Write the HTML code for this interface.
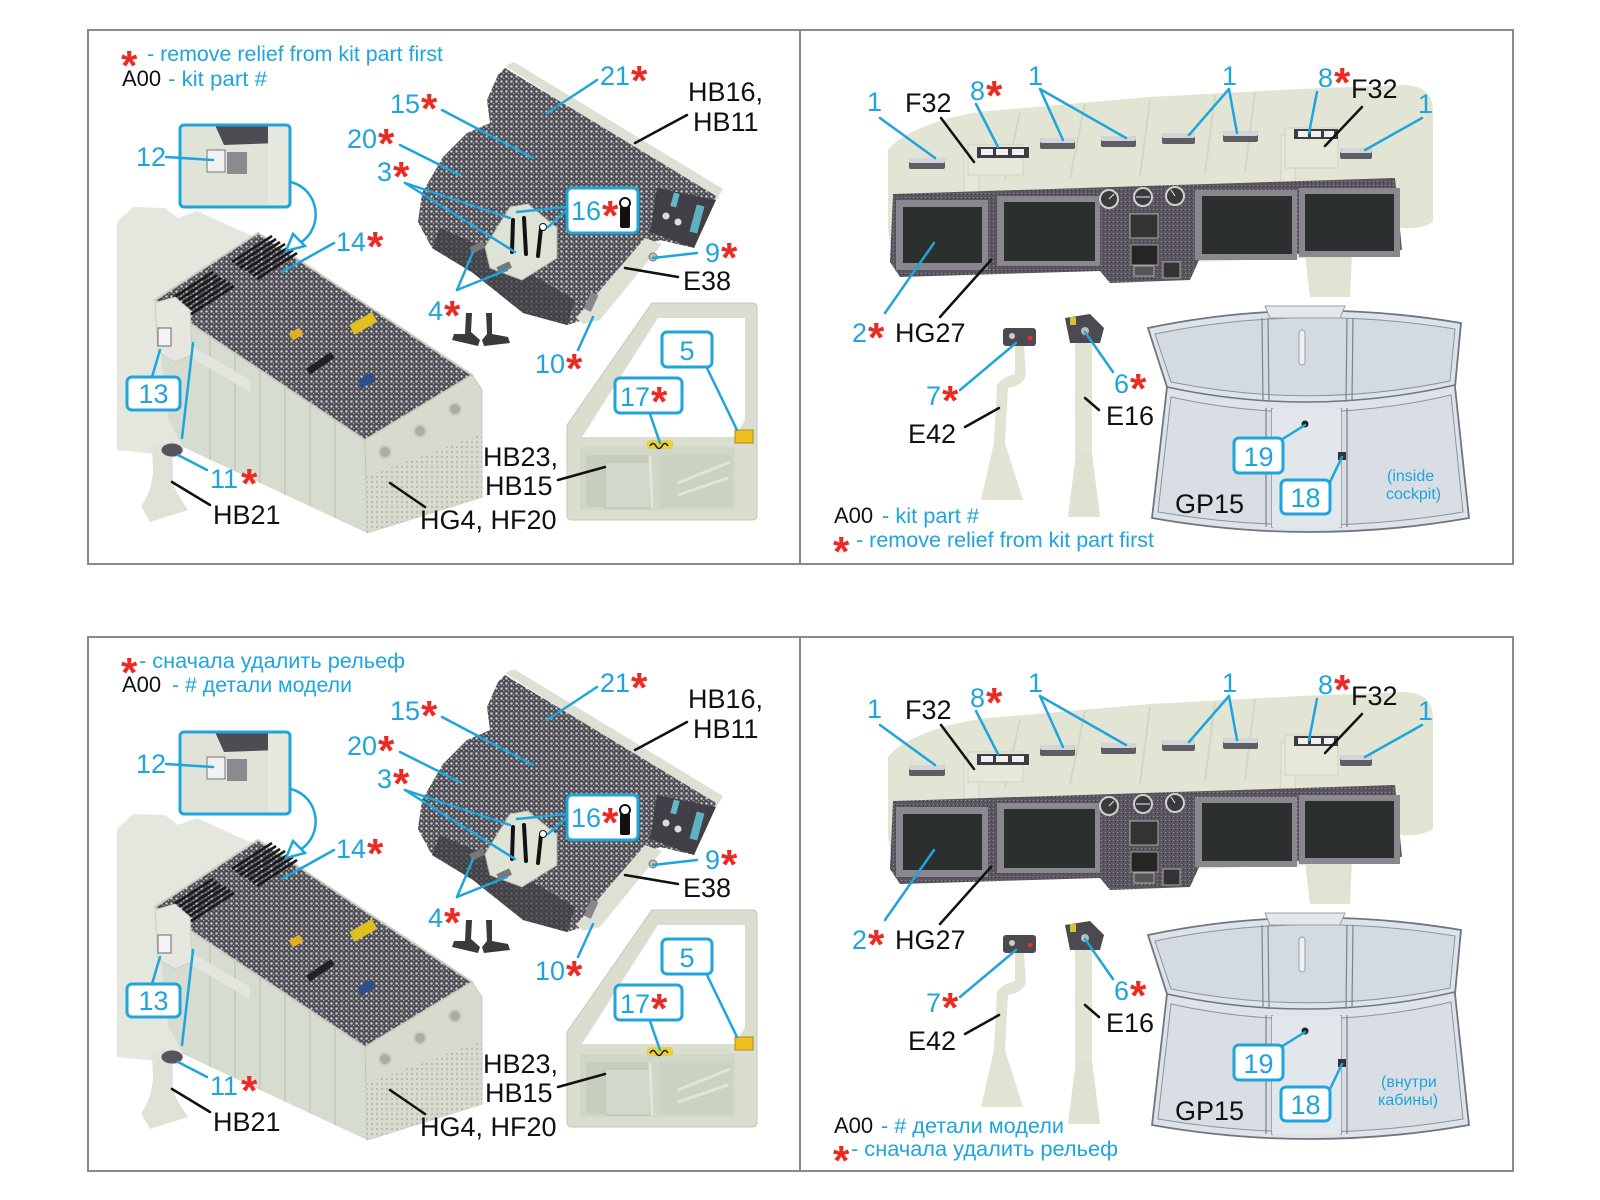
<!DOCTYPE html>
<html><head><meta charset="utf-8"><style>
html,body{margin:0;padding:0;background:#fff;}
svg{display:block;}
text{font-family:"Liberation Sans","DejaVu Sans",sans-serif;}
.c{fill:#1fa4dc;font-size:27px;}
.k{fill:#111;font-size:27px;}
.s{fill:#ea2a24;font-size:42px;font-weight:bold;}
.lg{font-size:21px;}
.cl{stroke:#1fa4dc;stroke-width:2.5;stroke-linecap:round;fill:none;}
.bl{stroke:#111;stroke-width:2.5;stroke-linecap:round;fill:none;}
.bx{fill:#fff;stroke:#1fa4dc;stroke-width:3;}
</style></head><body>
<svg xmlns="http://www.w3.org/2000/svg" width="1600" height="1200" viewBox="0 0 1600 1200">
<defs>
<pattern id="texA" width="5" height="5" patternUnits="userSpaceOnUse"><rect width="5" height="5" fill="#4f4e55"/><rect x="0.5" y="0.5" width="2" height="2" fill="#e0e0e4"/><rect x="3" y="3" width="1.2" height="1.2" fill="#b0b0b5"/></pattern>
<pattern id="texB" width="4" height="4" patternUnits="userSpaceOnUse"><rect width="4" height="4" fill="#5a555e"/><rect x="1" y="1" width="1" height="1" fill="#938e99"/><rect x="3" y="2" width="1" height="1" fill="#423e46"/></pattern>
<pattern id="mesh" width="5" height="5" patternUnits="userSpaceOnUse"><rect width="5" height="5" fill="#d6dbce"/><rect x="1" y="1" width="2" height="2" fill="#b7bdad"/></pattern>
<clipPath id="clip12"><rect x="180" y="125" width="110" height="82" rx="4"/></clipPath>

<g id="gL">
 <path d="M117,222 L133,207 L165,208 L178,218 L197,211 L252,236 L155,300 L168,420 L183,447 L175,456 L117,450 Z" fill="#e4e7de"/>
 <path d="M155,300 L365,440 L367,533 L183,447 L168,420 Z" fill="#d7dcd0"/>
 <g stroke="#c3c9b7" stroke-width="1.5">
  <line x1="210" y1="337" x2="210" y2="460"/><line x1="235" y1="353" x2="235" y2="471"/>
  <line x1="260" y1="370" x2="260" y2="483"/><line x1="285" y1="387" x2="285" y2="495"/>
  <line x1="310" y1="403" x2="310" y2="506"/><line x1="335" y1="420" x2="335" y2="518"/>
 </g>
 <path d="M190,345 L250,380 L250,392 L190,357 Z" fill="#e3e6dc"/>
 <path d="M155,300 L258,233 L472,375 L365,440 Z" fill="url(#texA)" stroke="#c9cdc2" stroke-width="2"/>
 <g stroke="#1a1a1c" stroke-width="2.6">
  <line x1="232" y1="262" x2="272" y2="236"/><line x1="236" y1="265" x2="276" y2="239"/>
  <line x1="240" y1="268" x2="280" y2="242"/><line x1="245" y1="270" x2="285" y2="244"/>
  <line x1="249" y1="273" x2="289" y2="247"/><line x1="253" y1="276" x2="293" y2="250"/>
  <line x1="257" y1="279" x2="297" y2="253"/>
  <line x1="170" y1="300" x2="213" y2="272"/><line x1="174" y1="303" x2="217" y2="275"/>
  <line x1="178" y1="306" x2="221" y2="278"/><line x1="183" y1="308" x2="226" y2="280"/>
  <line x1="187" y1="311" x2="230" y2="283"/><line x1="191" y1="314" x2="234" y2="286"/>
 </g>
 <rect x="350" y="318" width="26" height="11" fill="#e0c020" transform="rotate(-30 363 323)"/>
 <rect x="290" y="330" width="12" height="8" fill="#e0b020" transform="rotate(-30 296 334)"/>
 <rect x="358" y="376" width="16" height="9" fill="#2a4f8a" transform="rotate(-30 366 380)"/>
 <rect x="305" y="360" width="30" height="7" fill="#222" transform="rotate(-34 320 363)"/>
 <path d="M365,440 L472,375 L482,390 L482,497 L367,533 Z" fill="#d6dbce" stroke="#c2c8b8"/>
 <path d="M367,476 L482,434 L482,497 L367,533 Z" fill="url(#mesh)"/>
 <g fill="#a9af9f" stroke="#c9cebf" stroke-width="2">
  <circle cx="385" cy="452" r="6"/><circle cx="420" cy="431" r="6"/><circle cx="455" cy="409" r="6"/>
 </g>
 <path d="M155,303 L175,297 L190,310 L192,355 L175,362 L158,352 Z" fill="#e6e8e0" stroke="#c9cdc1"/>
 <rect x="158" y="328" width="13" height="18" fill="#f4f4f4" stroke="#666"/>
 <path d="M152,447 Q162,440 172,447 L173,470 Q172,486 179,496 L188,510 L150,522 L141,506 Q152,492 153,470 Z" fill="#dfe2d7"/>
 <ellipse cx="172" cy="450" rx="11" ry="7" fill="#55545a" stroke="#ddd"/>
 <g clip-path="url(#clip12)">
  <rect x="180" y="125" width="110" height="82" fill="#dfe3d8"/>
  <path d="M215,125 L290,125 L290,132 L280,143 L224,145 Z" fill="#4d4c52"/>
  <rect x="268" y="125" width="22" height="82" fill="#e6e9df"/>
  <rect x="207" y="150" width="18" height="22" fill="#f2f2f2" stroke="#777"/>
  <rect x="227" y="152" width="20" height="22" fill="#8a8a8f"/>
 </g>
 <rect class="bx" x="180" y="125" width="110" height="82" rx="4" style="fill:none"/>
 <path class="cl" d="M291,182 C320,190 324,228 300,243"/>
 <path d="M286,251 L293,234 L305,246 Z" fill="#fff" stroke="#1fa4dc" stroke-width="2.5"/>
 <path d="M505,66 L514,62 L723,189 L716,201 Z" fill="#dde1d4"/>
 <path d="M498,75 L505,68 L716,196 L712,205 L694,248 L660,240 L650,245 L590,318 L567,325 L523,313 L473,273 L432,248 L418,222 L422,193 L443,157 L467,133 L490,123 L487,100 Z" fill="url(#texA)"/>
 <path d="M432,248 L473,273 L523,313 L567,325 L575,300 L490,250 L440,228 Z" fill="#3e3d43" opacity="0.75"/>
 <path d="M657,188 L716,200 L694,248 L650,232 Z" fill="#403f45"/>
 <rect x="672" y="193" width="6" height="14" fill="#5fb8c8" transform="rotate(15 675 200)"/>
 <rect x="693" y="205" width="8" height="28" fill="#5fb0c0" transform="rotate(15 697 219)"/>
 <circle cx="666" cy="216" r="3.5" fill="#ddd"/><circle cx="678" cy="222" r="3.5" fill="#ddd"/>
 <path d="M645,238 L662,244 L600,320 L583,324 L576,318 Z" fill="#dde1d3"/>
 <circle cx="653" cy="257" r="4" fill="#bbb" stroke="#777"/>
 <rect x="587" y="293" width="8" height="18" fill="#888" transform="rotate(25 591 302)"/>
 <path d="M485,247 L510,207 L528,204 L557,228 L557,258 L522,280 L490,268 Z" fill="#dfe3d6" stroke="#b9bfb0"/>
 <g stroke="#111" stroke-width="4" stroke-linecap="round">
  <line x1="513" y1="220" x2="512" y2="252"/><line x1="524" y1="218" x2="526" y2="254"/><line x1="541" y1="228" x2="538" y2="256"/>
 </g>
 <circle cx="543" cy="227" r="3.5" fill="#fff" stroke="#111"/>
 <rect x="470" y="244" width="14" height="7" fill="#777" transform="rotate(-25 477 247)"/>
 <rect x="497" y="264" width="14" height="7" fill="#777" transform="rotate(-25 504 267)"/>
 <g fill="#3a3a3e">
  <path d="M466,313 L472,313 L471,332 L480,340 L478,346 L452,340 L454,334 L465,334 Z"/>
  <path d="M486,313 L492,313 L492,334 L508,337 L510,343 L484,346 L482,340 L487,334 Z"/>
 </g>
 <path d="M652,303 L752,303 Q757,303 757,308 L757,515 Q757,520 752,520 L572,520 Q567,520 567,515 L567,425 Z" fill="#d9decf" stroke="#c3c9b8"/>
 <path d="M582,437 L658,318 L745,318 L745,420 L735,437 Z" fill="#fff"/>
 <rect x="580" y="447" width="155" height="63" fill="#d1d7c7"/>
 <rect x="586" y="455" width="62" height="52" fill="#c8cebe"/>
 <rect x="660" y="455" width="72" height="52" fill="#ccd2c2"/>
 <rect x="605" y="462" width="45" height="46" fill="#d3d9ca" stroke="#bcc2b2"/>
 <g stroke="#e2e6d8" stroke-width="3"><line x1="678" y1="483" x2="730" y2="462"/><line x1="678" y1="495" x2="728" y2="478"/><line x1="650" y1="456" x2="652" y2="508"/></g>
 <rect x="735" y="430" width="18" height="13" fill="#f0c020" stroke="#b08a10"/>
 <rect x="647" y="440" width="26" height="9" rx="3" fill="#e8d040"/>
 <path d="M650,446 q3,-5 6,0 q3,5 6,0 q3,-5 6,0" stroke="#222" fill="none" stroke-width="1.5"/>
 <line class="cl" x1="166" y1="157" x2="213" y2="160"/>
 <line class="cl" x1="334" y1="243" x2="282" y2="272"/>
 <line class="cl" x1="442" y1="110" x2="533" y2="158"/>
 <line class="cl" x1="400" y1="145" x2="460" y2="175"/>
 <line class="cl" x1="405" y1="183" x2="510" y2="218"/>
 <line class="cl" x1="405" y1="183" x2="515" y2="252"/>
 <line class="cl" x1="597" y1="80" x2="547" y2="113"/>
 <line class="bl" x1="687" y1="115" x2="635" y2="143"/>
 <line class="cl" x1="566" y1="207" x2="517" y2="212"/>
 <line class="cl" x1="567" y1="210" x2="548" y2="227"/>
 <line class="cl" x1="457" y1="290" x2="473" y2="252"/>
 <line class="cl" x1="457" y1="290" x2="507" y2="270"/>
 <line class="cl" x1="653" y1="258" x2="697" y2="253"/>
 <line class="bl" x1="625" y1="268" x2="678" y2="277"/>
 <line class="cl" x1="578" y1="350" x2="593" y2="317"/>
 <line class="cl" x1="707" y1="368" x2="737" y2="430"/>
 <line class="cl" x1="650" y1="414" x2="660" y2="443"/>
 <line class="bl" x1="558" y1="480" x2="605" y2="467"/>
 <line class="cl" x1="152" y1="377" x2="160" y2="350"/>
 <line class="cl" x1="182" y1="438" x2="193" y2="343"/>
 <line class="cl" x1="178" y1="455" x2="207" y2="470"/>
 <line class="bl" x1="172" y1="482" x2="210" y2="505"/>
 <line class="bl" x1="390" y1="483" x2="425" y2="507"/>
 <rect class="bx" x="127" y="377" width="53" height="33" rx="5"/>
 <rect class="bx" x="662" y="332" width="50" height="35" rx="5"/>
 <rect class="bx" x="615" y="378" width="67" height="35" rx="5"/>
 <rect class="bx" x="567" y="188" width="71" height="45" rx="5"/>
 <rect x="620" y="206" width="10" height="22" rx="2" fill="#111"/>
 <circle cx="625" cy="203" r="5" fill="#fff" stroke="#111" stroke-width="2"/>
</g>

<g id="gR">
 <path d="M888,150 C905,128 960,112 1000,110 L1150,97 L1300,89 L1405,85 Q1432,86 1433,110 L1433,222 Q1420,230 1400,228 L1398,255 L895,272 L888,230 Z" fill="#e2e5d4"/>
 <g stroke="#d2d6c3" stroke-width="2"><line x1="1020" y1="112" x2="1005" y2="180"/><line x1="1085" y1="104" x2="1070" y2="178"/><line x1="1150" y1="100" x2="1140" y2="176"/><line x1="1215" y1="95" x2="1205" y2="174"/><line x1="1255" y1="92" x2="1245" y2="172"/></g>
 <path d="M1305,255 L1352,252 L1350,297 L1310,297 Z" fill="#e0e3d2"/>
 <rect x="964" y="150" width="15" height="42" fill="#e6e8da" stroke="#cfd3c2"/>
 <rect x="968" y="145" width="55" height="30" fill="#e6e8da" stroke="#cfd3c2"/>
 <rect x="977" y="147" width="52" height="11" fill="#3c3c42"/>
 <g fill="#f0f0f0"><rect x="981" y="149" width="12" height="6"/><rect x="996" y="149" width="12" height="6"/><rect x="1012" y="149" width="12" height="6"/></g>
 <rect x="1281" y="135" width="14" height="47" fill="#e6e8da" stroke="#cfd3c2"/>
 <rect x="1285" y="128" width="53" height="40" fill="#e6e8da" stroke="#cfd3c2"/>
 <rect x="1294" y="129" width="44" height="10" fill="#3c3c42"/>
 <g fill="#f0f0f0"><rect x="1298" y="131" width="10" height="6"/><rect x="1311" y="131" width="10" height="6"/><rect x="1324" y="131" width="10" height="6"/></g>
 <g>
  <rect x="909" y="158" width="36" height="11" rx="2" fill="#5e5e64"/><rect x="909" y="158" width="36" height="5" rx="2" fill="#d4d5d8"/>
  <rect x="1040" y="138" width="35" height="11" rx="2" fill="#5e5e64"/><rect x="1040" y="138" width="35" height="5" rx="2" fill="#d4d5d8"/>
  <rect x="1101" y="136" width="35" height="11" rx="2" fill="#5e5e64"/><rect x="1101" y="136" width="35" height="5" rx="2" fill="#d4d5d8"/>
  <rect x="1162" y="133" width="33" height="11" rx="2" fill="#5e5e64"/><rect x="1162" y="133" width="33" height="5" rx="2" fill="#d4d5d8"/>
  <rect x="1223" y="131" width="35" height="11" rx="2" fill="#5e5e64"/><rect x="1223" y="131" width="35" height="5" rx="2" fill="#d4d5d8"/>
  <rect x="1340" y="148" width="32" height="11" rx="2" fill="#5e5e64"/><rect x="1340" y="148" width="32" height="5" rx="2" fill="#d4d5d8"/>
 </g>
 <path d="M893,194 L1395,178 L1402,250 L1200,258 L1190,280 L1110,283 L1100,271 L900,277 L890,262 Z" fill="url(#texB)"/>
 <g fill="#8a888f">
  <rect x="896" y="200" width="92" height="70"/><rect x="997" y="196" width="103" height="70"/>
  <rect x="1195" y="190" width="102" height="70"/><rect x="1299" y="188" width="101" height="69"/>
 </g>
 <g fill="#2b302e">
  <rect x="903" y="207" width="79" height="56"/><rect x="1004" y="202" width="91" height="59"/>
  <rect x="1202" y="196" width="90" height="58"/><rect x="1305" y="194" width="89" height="57"/>
 </g>
 <g fill="#3a3a3c" stroke="#d0d0d0" stroke-width="2">
  <circle cx="1109" cy="199" r="9"/><circle cx="1143" cy="197" r="9"/><circle cx="1175" cy="196" r="9"/>
 </g>
 <g stroke="#eee" stroke-width="1"><line x1="1109" y1="199" x2="1114" y2="194"/><line x1="1136" y1="197" x2="1150" y2="197"/><line x1="1175" y1="196" x2="1171" y2="190"/></g>
 <rect x="1130" y="214" width="28" height="24" fill="#333" stroke="#aaa"/>
 <rect x="1131" y="245" width="27" height="20" fill="#252525" stroke="#999"/>
 <rect x="1163" y="262" width="17" height="16" fill="#333" stroke="#aaa"/>
 <rect x="1134" y="266" width="20" height="10" fill="#555" stroke="#aaa"/>
 <path d="M1015,345 L1024,345 L1026,376 Q1022,386 1008,388 L1005,443 L1023,500 L981,500 L994,443 L997,385 Q1002,377 1015,374 Z" fill="#dfe5d2"/>
 <rect x="1003" y="328" width="33" height="18" rx="3" fill="#4a4a50"/>
 <circle cx="1030" cy="338" r="2.5" fill="#d33"/><circle cx="1012" cy="336" r="3" fill="#ccc"/>
 <rect x="1075" y="340" width="17" height="115" fill="#dfe5d2"/>
 <path d="M1076,453 L1092,453 L1100,517 L1068,517 Z" fill="#dde3d0"/>
 <path d="M1065,318 L1090,314 L1104,328 L1100,343 L1070,343 Z" fill="#4a4a50"/>
 <circle cx="1085" cy="331" r="4" fill="#bbb"/><rect x="1070" y="317" width="6" height="8" fill="#d8c030"/>
 <path d="M1148,328 Q1300,296 1461,323 L1455,387 L1469,518 Q1310,546 1152,518 L1167,387 Z" fill="#dde3e8" stroke="#6f767e" stroke-width="1.8"/>
 <path d="M1167,387 Q1310,418 1455,385" fill="none" stroke="#6f767e" stroke-width="1.5"/>
 <path d="M1155,334 Q1300,304 1455,329 L1450,381 Q1310,410 1171,382 Z" fill="#d4dbe0" stroke="#8c939a" stroke-width="1"/>
 <path d="M1171,397 Q1310,428 1451,395 L1463,512 Q1310,538 1158,512 Z" fill="#d8dee3" stroke="#8c939a" stroke-width="1"/>
 <g stroke="#7b828a" stroke-width="1.2">
  <line x1="1262" y1="318" x2="1263" y2="401"/><line x1="1268" y1="318" x2="1269" y2="402"/>
  <line x1="1347" y1="318" x2="1346" y2="402"/><line x1="1353" y1="318" x2="1352" y2="401"/>
  <line x1="1266" y1="408" x2="1266" y2="527"/><line x1="1272" y1="408" x2="1272" y2="528"/>
  <line x1="1341" y1="408" x2="1341" y2="528"/><line x1="1347" y1="408" x2="1347" y2="527"/>
 </g>
 <rect x="1272" y="409" width="69" height="118" fill="#e2e7eb"/>
 <rect x="1299" y="330" width="6" height="35" rx="3" fill="#eef1f3" stroke="#9aa0a6"/>
 <path d="M1265,306 L1345,306 L1340,318 L1270,318 Z" fill="#e4e8eb" stroke="#9aa0a6"/>
 <circle cx="1305" cy="424" r="3.5" fill="#222"/>
 <rect x="1338" y="452" width="8" height="8" fill="#333"/>
 <line class="cl" x1="880" y1="118" x2="935" y2="158"/>
 <line class="bl" x1="941" y1="118" x2="974" y2="162"/>
 <line class="cl" x1="976" y1="104" x2="998" y2="147"/>
 <line class="cl" x1="1040" y1="89" x2="1063" y2="140"/>
 <line class="cl" x1="1040" y1="89" x2="1126" y2="138"/>
 <line class="cl" x1="1229" y1="89" x2="1189" y2="135"/>
 <line class="cl" x1="1229" y1="89" x2="1237" y2="133"/>
 <line class="cl" x1="1317" y1="92" x2="1309" y2="133"/>
 <line class="bl" x1="1362" y1="107" x2="1325" y2="146"/>
 <line class="cl" x1="1422" y1="118" x2="1365" y2="150"/>
 <line class="cl" x1="885" y1="313" x2="934" y2="243"/>
 <line class="bl" x1="940" y1="317" x2="991" y2="260"/>
 <line class="cl" x1="960" y1="390" x2="1016" y2="343"/>
 <line class="bl" x1="965" y1="427" x2="999" y2="408"/>
 <line class="cl" x1="1113" y1="372" x2="1085" y2="332"/>
 <line class="bl" x1="1099" y1="410" x2="1085" y2="398"/>
 <line class="cl" x1="1281" y1="440" x2="1305" y2="425"/>
 <line class="cl" x1="1330" y1="482" x2="1342" y2="457"/>
 <rect class="bx" x="1234" y="438" width="49" height="35" rx="5"/>
 <rect class="bx" x="1281" y="480" width="49" height="34" rx="5"/>
</g>
</defs>

<rect x="88" y="30" width="1425" height="534" fill="none" stroke="#8a8a8a" stroke-width="2"/>
<line x1="800" y1="30" x2="800" y2="564" stroke="#8a8a8a" stroke-width="2"/>
<rect x="88" y="637" width="1425" height="534" fill="none" stroke="#8a8a8a" stroke-width="2"/>
<line x1="800" y1="637" x2="800" y2="1171" stroke="#8a8a8a" stroke-width="2"/>

<use href="#gL"/><use href="#gR"/>
<use href="#gL" y="607"/><use href="#gR" y="607"/>

<g>
 <text class="s" x="121" y="80">*</text>
 <text class="c lg" x="147" y="61" textLength="296" lengthAdjust="spacingAndGlyphs">- remove relief from kit part first</text>
 <text class="k lg" x="122" y="86" style="font-size:22px">A00</text>
 <text class="c lg" x="168" y="86" textLength="99" lengthAdjust="spacingAndGlyphs">- kit part #</text>

 <text class="c" x="136" y="166">12</text>
 <text class="c" x="336" y="251">14</text><text class="s" x="367" y="261">*</text>
 <text class="c" x="390" y="113">15</text><text class="s" x="421" y="123">*</text>
 <text class="c" x="347" y="148">20</text><text class="s" x="378" y="158">*</text>
 <text class="c" x="377" y="181">3</text><text class="s" x="393" y="191">*</text>
 <text class="c" x="600" y="85">21</text><text class="s" x="631" y="95">*</text>
 <text class="k" x="688" y="101">HB16,</text>
 <text class="k" x="693" y="131">HB11</text>
 <text class="c" x="571" y="220">16</text><text class="s" x="602" y="230">*</text>
 <text class="c" x="428" y="320">4</text><text class="s" x="444" y="330">*</text>
 <text class="c" x="705" y="262">9</text><text class="s" x="721" y="272">*</text>
 <text class="k" x="683" y="290">E38</text>
 <text class="c" x="535" y="373">10</text><text class="s" x="566" y="383">*</text>
 <text class="c" x="687" y="360" text-anchor="middle">5</text>
 <text class="c" x="620" y="406">17</text><text class="s" x="651" y="416">*</text>
 <text class="k" x="483" y="466">HB23,</text>
 <text class="k" x="485" y="495">HB15</text>
 <text class="c" x="153.5" y="403" text-anchor="middle">13</text>
 <text class="c" x="210" y="488">11</text><text class="s" x="241" y="498">*</text>
 <text class="k" x="213" y="524">HB21</text>
 <text class="k" x="420" y="529">HG4, HF20</text>

 <text class="c" x="867" y="111">1</text>
 <text class="k" x="905" y="112">F32</text>
 <text class="c" x="970" y="100">8</text><text class="s" x="986" y="110">*</text>
 <text class="c" x="1028" y="85">1</text>
 <text class="c" x="1222" y="85">1</text>
 <text class="c" x="1318" y="87">8</text><text class="s" x="1334" y="97">*</text>
 <text class="k" x="1351" y="98">F32</text>
 <text class="c" x="1418" y="113">1</text>
 <text class="c" x="852" y="342">2</text><text class="s" x="868" y="352">*</text>
 <text class="k" x="895" y="342">HG27</text>
 <text class="c" x="926" y="405">7</text><text class="s" x="942" y="415">*</text>
 <text class="k" x="908" y="443">E42</text>
 <text class="c" x="1114" y="393">6</text><text class="s" x="1130" y="403">*</text>
 <text class="k" x="1106" y="425">E16</text>
 <text class="c" x="1258.5" y="466" text-anchor="middle">19</text>
 <text class="c" x="1305.5" y="507" text-anchor="middle">18</text>
 <text class="k" x="1175" y="513">GP15</text>
 <text class="c" x="1387" y="481" style="font-size:16px">(inside</text>
 <text class="c" x="1386" y="499" style="font-size:16px">cockpit)</text>
 <text class="k lg" x="834" y="523" style="font-size:22px">A00</text>
 <text class="c lg" x="882" y="523" textLength="97" lengthAdjust="spacingAndGlyphs">- kit part #</text>
 <text class="s" x="833" y="566">*</text>
 <text class="c lg" x="856" y="547" textLength="298" lengthAdjust="spacingAndGlyphs">- remove relief from kit part first</text>
</g>

<g transform="translate(0,607)">
 <text class="s" x="121" y="80">*</text>
 <text class="c lg" x="139" y="61" textLength="266" lengthAdjust="spacingAndGlyphs">- сначала удалить рельеф</text>
 <text class="k lg" x="122" y="85" style="font-size:22px">A00</text>
 <text class="c lg" x="172" y="85" textLength="180" lengthAdjust="spacingAndGlyphs">- # детали модели</text>

 <text class="c" x="136" y="166">12</text>
 <text class="c" x="336" y="251">14</text><text class="s" x="367" y="261">*</text>
 <text class="c" x="390" y="113">15</text><text class="s" x="421" y="123">*</text>
 <text class="c" x="347" y="148">20</text><text class="s" x="378" y="158">*</text>
 <text class="c" x="377" y="181">3</text><text class="s" x="393" y="191">*</text>
 <text class="c" x="600" y="85">21</text><text class="s" x="631" y="95">*</text>
 <text class="k" x="688" y="101">HB16,</text>
 <text class="k" x="693" y="131">HB11</text>
 <text class="c" x="571" y="220">16</text><text class="s" x="602" y="230">*</text>
 <text class="c" x="428" y="320">4</text><text class="s" x="444" y="330">*</text>
 <text class="c" x="705" y="262">9</text><text class="s" x="721" y="272">*</text>
 <text class="k" x="683" y="290">E38</text>
 <text class="c" x="535" y="373">10</text><text class="s" x="566" y="383">*</text>
 <text class="c" x="687" y="360" text-anchor="middle">5</text>
 <text class="c" x="620" y="406">17</text><text class="s" x="651" y="416">*</text>
 <text class="k" x="483" y="466">HB23,</text>
 <text class="k" x="485" y="495">HB15</text>
 <text class="c" x="153.5" y="403" text-anchor="middle">13</text>
 <text class="c" x="210" y="488">11</text><text class="s" x="241" y="498">*</text>
 <text class="k" x="213" y="524">HB21</text>
 <text class="k" x="420" y="529">HG4, HF20</text>

 <text class="c" x="867" y="111">1</text>
 <text class="k" x="905" y="112">F32</text>
 <text class="c" x="970" y="100">8</text><text class="s" x="986" y="110">*</text>
 <text class="c" x="1028" y="85">1</text>
 <text class="c" x="1222" y="85">1</text>
 <text class="c" x="1318" y="87">8</text><text class="s" x="1334" y="97">*</text>
 <text class="k" x="1351" y="98">F32</text>
 <text class="c" x="1418" y="113">1</text>
 <text class="c" x="852" y="342">2</text><text class="s" x="868" y="352">*</text>
 <text class="k" x="895" y="342">HG27</text>
 <text class="c" x="926" y="405">7</text><text class="s" x="942" y="415">*</text>
 <text class="k" x="908" y="443">E42</text>
 <text class="c" x="1114" y="393">6</text><text class="s" x="1130" y="403">*</text>
 <text class="k" x="1106" y="425">E16</text>
 <text class="c" x="1258.5" y="466" text-anchor="middle">19</text>
 <text class="c" x="1305.5" y="507" text-anchor="middle">18</text>
 <text class="k" x="1175" y="513">GP15</text>
 <text class="c" x="1381" y="480" style="font-size:16px">(внутри</text>
 <text class="c" x="1378" y="498" style="font-size:16px">кабины)</text>
 <text class="k lg" x="834" y="526" style="font-size:22px">A00</text>
 <text class="c lg" x="881" y="526" textLength="183" lengthAdjust="spacingAndGlyphs">- # детали модели</text>
 <text class="s" x="833" y="568">*</text>
 <text class="c lg" x="851" y="549" textLength="267" lengthAdjust="spacingAndGlyphs">- сначала удалить рельеф</text>
</g>
</svg>
</body></html>
